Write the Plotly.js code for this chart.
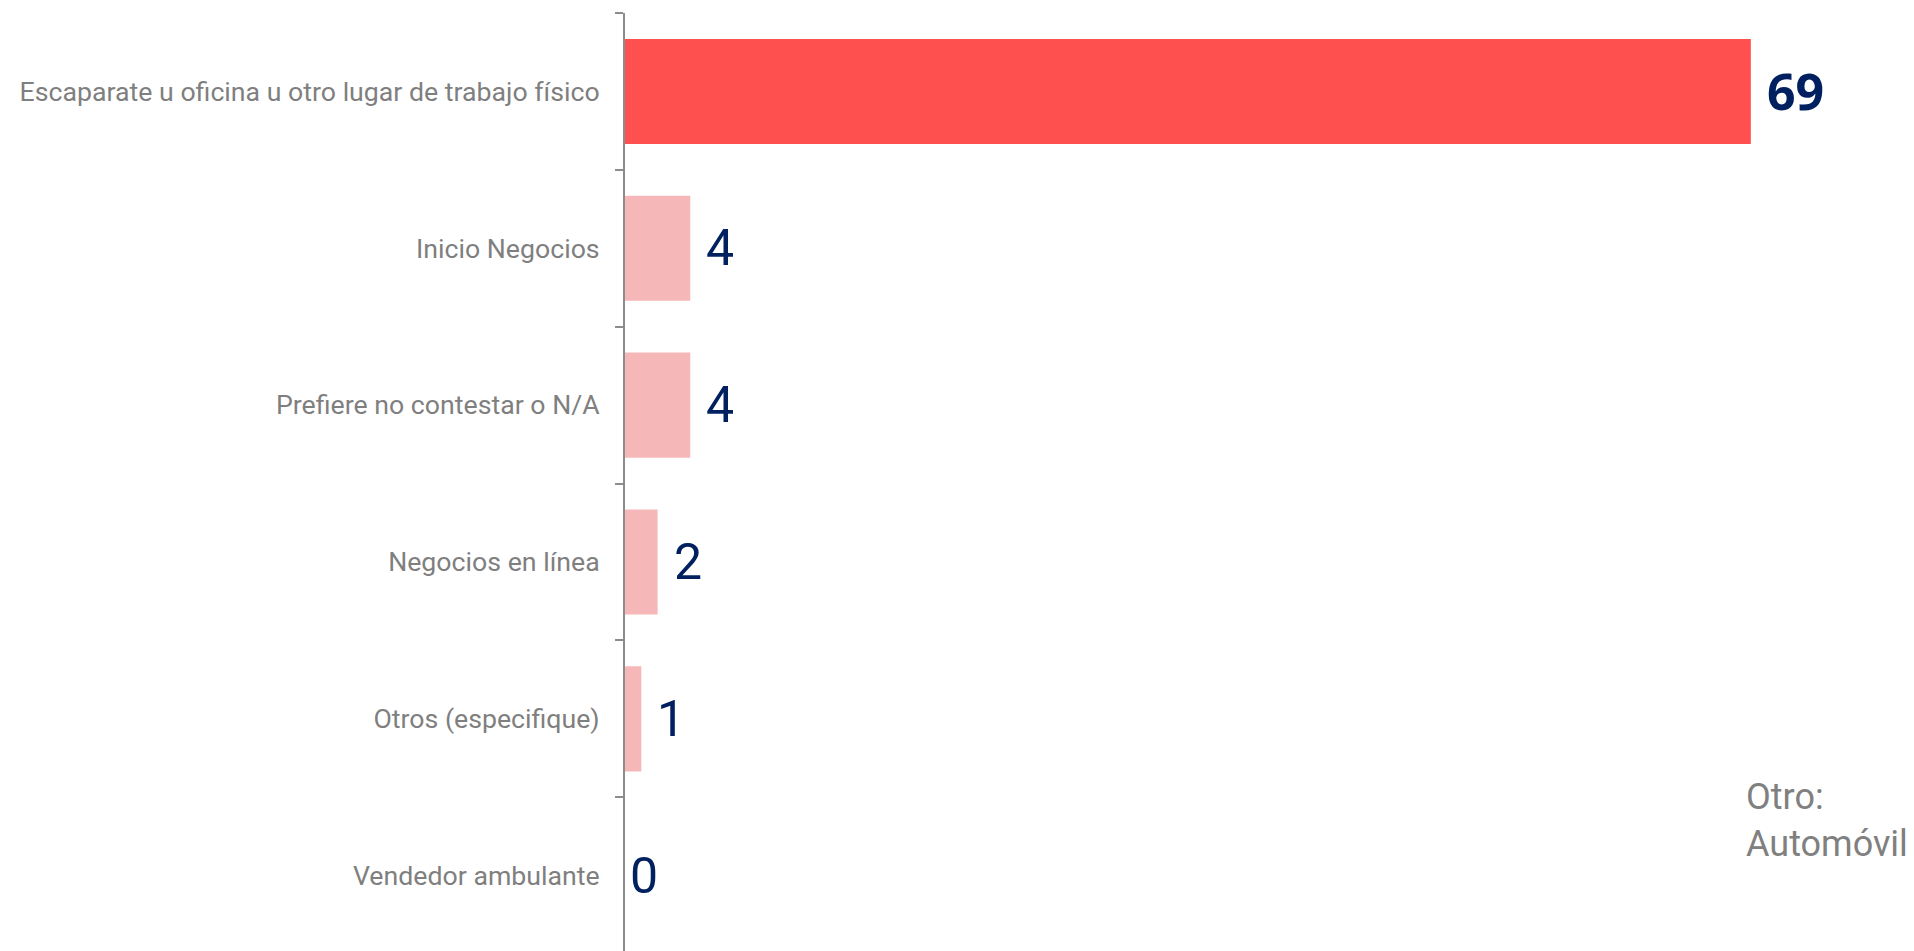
<!DOCTYPE html>
<html>
<head>
<meta charset="utf-8">
<script src="https://cdn.plot.ly/plotly-3.0.1.min.js"></script>
<style>html,body{margin:0;padding:0;background:#fff;}#chart{width:1914px;height:951px;}</style>
</head>
<body>
<div id="chart"></div>
<script>
const categories = [
  "Escaparate u oficina u otro lugar de trabajo físico",
  "Inicio Negocios",
  "Prefiere no contestar o N/A",
  "Negocios en línea",
  "Otros (especifique)",
  "Vendedor ambulante"
];
const values = [69, 4, 4, 2, 1, 0];
const barColors = ["#FF5050", "#F5B7B8", "#F5B7B8", "#F5B7B8", "#F5B7B8", "#F5B7B8"];
const labelBold = [true, false, false, false, false, false];
const noteText = "Otro:<br>Automóvil";

const W = 1914, H = 951, ml = 625, mr = 0, mt = 13, mb = 0;

const trace = {
  type: "bar",
  orientation: "h",
  x: values,
  y: categories,
  marker: {color: barColors},
  width: 0.67,
  hoverinfo: "none"
};

const annotations = values.map((v, i) => ({
  x: v, y: categories[i], xref: "x", yref: "y",
  text: labelBold[i] ? "<b>" + v + "</b>" : String(v),
  showarrow: false, xanchor: "left", yanchor: "middle",
  xshift: v === 0 ? 3 : 14,
  font: {
    family: labelBold[i] ? "Noto Sans, Open Sans, sans-serif" : "Roboto, sans-serif",
    size: 50, color: "#002060"
  }
}));
annotations.push({
  x: (1744 - ml) / (W - ml - mr),
  y: 1 - (820 - mt) / (H - mt - mb),
  xref: "paper", yref: "paper",
  xanchor: "left", yanchor: "middle",
  text: noteText, showarrow: false, align: "left",
  font: {family: "Roboto, sans-serif", size: 36, color: "#808080"}
});

const layout = {
  width: W, height: H,
  margin: {l: ml, r: mr, t: mt, b: mb, pad: 0},
  paper_bgcolor: "#fff", plot_bgcolor: "#fff",
  showlegend: false,
  xaxis: {
    range: [0, 79], visible: false, showgrid: false, zeroline: false, fixedrange: true
  },
  yaxis: {
    type: "category",
    range: [5.48, -0.5],
    showline: true, linecolor: "#8C8C8C", linewidth: 2,
    ticks: "outside", ticklen: 8, tickwidth: 2, tickcolor: "#8C8C8C",
    tickson: "boundaries",
    showgrid: false, zeroline: false,
    ticklabelstandoff: 18,
    tickfont: {family: "Roboto, sans-serif", size: 26.7, color: "#7F7F7F"},
    fixedrange: true
  },
  annotations: annotations
};

Plotly.newPlot("chart", [trace], layout, {displayModeBar: false, staticPlot: true});
</script>
</body>
</html>
